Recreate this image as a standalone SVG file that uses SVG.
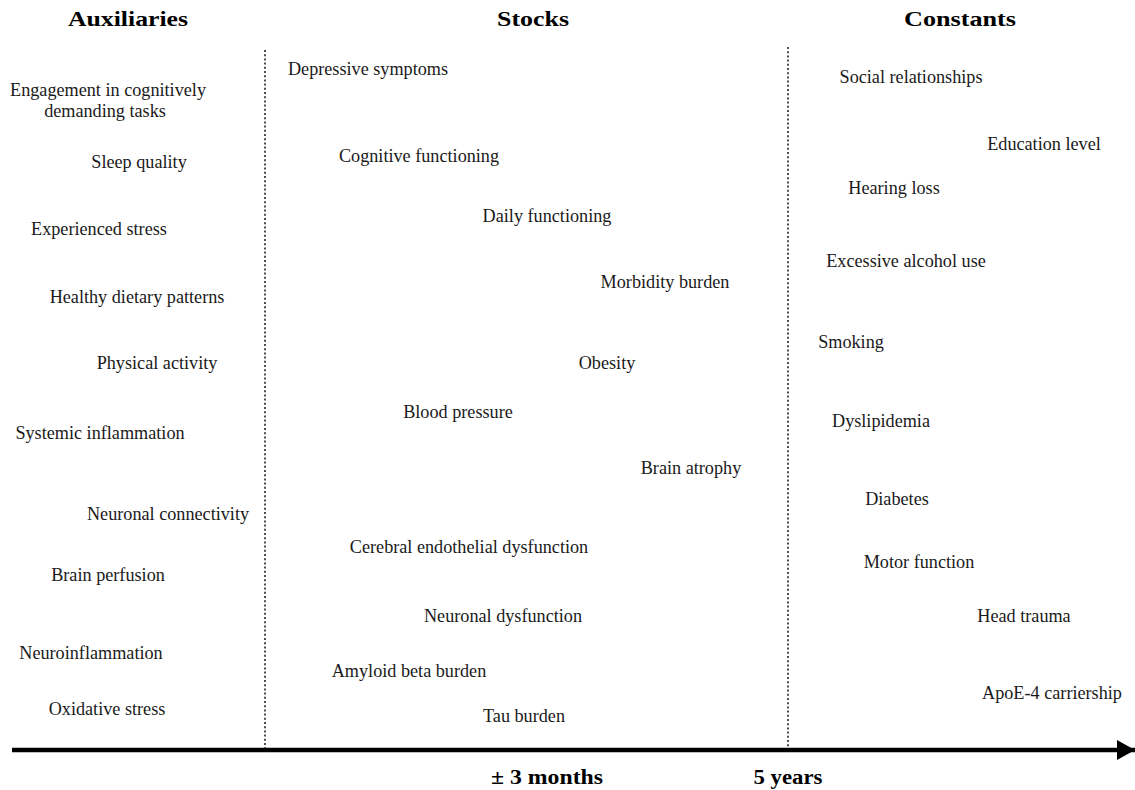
<svg xmlns="http://www.w3.org/2000/svg" width="1135" height="790" viewBox="0 0 1135 790">
<style>
.t{font-family:"Liberation Serif","Times New Roman",serif;font-size:18.2px;fill:#1a1a1a;text-anchor:middle}
.h{font-family:"Liberation Serif","Times New Roman",serif;font-size:22px;font-weight:bold;fill:#000;text-anchor:middle}
.b{font-family:"Liberation Serif","Times New Roman",serif;font-size:20px;font-weight:bold;fill:#000;text-anchor:middle}
.div{stroke:#222;stroke-width:1.6;stroke-dasharray:2 2.2;fill:none}
.axis{stroke:#000;stroke-width:4.5;fill:none}
</style>
<defs>
<marker id="arrow" markerUnits="userSpaceOnUse" markerWidth="20" markerHeight="22" refX="18" refY="10" orient="auto">
<polygon points="0,0 18,10 0,20" fill="#000"/>
</marker>
</defs>
<rect width="1135" height="790" fill="#fff"/>
<g id="headings">
<text class="h" x="128" y="26" textLength="120" lengthAdjust="spacingAndGlyphs">Auxiliaries</text>
<text class="h" x="533" y="26" textLength="72" lengthAdjust="spacingAndGlyphs">Stocks</text>
<text class="h" x="960" y="26" textLength="112" lengthAdjust="spacingAndGlyphs">Constants</text>
</g>
<g id="connectors">
<line class="div" x1="265" y1="50" x2="265" y2="748"/>
<line class="div" x1="788" y1="47" x2="788" y2="748"/>
<line class="axis" x1="12" y1="750" x2="1135" y2="750" marker-end="url(#arrow)"/>
</g>
<g id="auxiliaries">
<g id="aux-engagement"><text class="t" x="108" y="96">Engagement in cognitively</text><text class="t" x="105" y="117">demanding tasks</text></g>
<g id="aux-sleep"><text class="t" x="139" y="168">Sleep quality</text></g>
<g id="aux-stress"><text class="t" x="99" y="235">Experienced stress</text></g>
<g id="aux-diet"><text class="t" x="137" y="303">Healthy dietary patterns</text></g>
<g id="aux-activity"><text class="t" x="157" y="369">Physical activity</text></g>
<g id="aux-inflammation"><text class="t" x="100" y="439">Systemic inflammation</text></g>
<g id="aux-connectivity"><text class="t" x="168" y="520">Neuronal connectivity</text></g>
<g id="aux-perfusion"><text class="t" x="108" y="581">Brain perfusion</text></g>
<g id="aux-neuroinflammation"><text class="t" x="91" y="659">Neuroinflammation</text></g>
<g id="aux-oxidative"><text class="t" x="107" y="715">Oxidative stress</text></g>
</g>
<g id="stocks">
<g id="stock-depressive"><text class="t" x="368" y="75">Depressive symptoms</text></g>
<g id="stock-cognitive"><text class="t" x="419" y="162">Cognitive functioning</text></g>
<g id="stock-daily"><text class="t" x="547" y="222">Daily functioning</text></g>
<g id="stock-morbidity"><text class="t" x="665" y="288">Morbidity burden</text></g>
<g id="stock-obesity"><text class="t" x="607" y="369">Obesity</text></g>
<g id="stock-bp"><text class="t" x="458" y="418">Blood pressure</text></g>
<g id="stock-atrophy"><text class="t" x="691" y="474">Brain atrophy</text></g>
<g id="stock-endothelial"><text class="t" x="469" y="553">Cerebral endothelial dysfunction</text></g>
<g id="stock-neuronal"><text class="t" x="503" y="622">Neuronal dysfunction</text></g>
<g id="stock-amyloid"><text class="t" x="409" y="677">Amyloid beta burden</text></g>
<g id="stock-tau"><text class="t" x="524" y="722">Tau burden</text></g>
</g>
<g id="constants">
<g id="const-social"><text class="t" x="911" y="83">Social relationships</text></g>
<g id="const-education"><text class="t" x="1044" y="150">Education level</text></g>
<g id="const-hearing"><text class="t" x="894" y="194">Hearing loss</text></g>
<g id="const-alcohol"><text class="t" x="906" y="267">Excessive alcohol use</text></g>
<g id="const-smoking"><text class="t" x="851" y="348">Smoking</text></g>
<g id="const-dyslipidemia"><text class="t" x="881" y="427">Dyslipidemia</text></g>
<g id="const-diabetes"><text class="t" x="897" y="505">Diabetes</text></g>
<g id="const-motor"><text class="t" x="919" y="568">Motor function</text></g>
<g id="const-head"><text class="t" x="1024" y="622">Head trauma</text></g>
<g id="const-apoe"><text class="t" x="1052" y="699">ApoE-4 carriership</text></g>
</g>
<g id="axis-labels">
<text class="b" x="547" y="784" textLength="112" lengthAdjust="spacingAndGlyphs">± 3 months</text>
<text class="b" x="788" y="784" textLength="69" lengthAdjust="spacingAndGlyphs">5 years</text>
</g>
</svg>
